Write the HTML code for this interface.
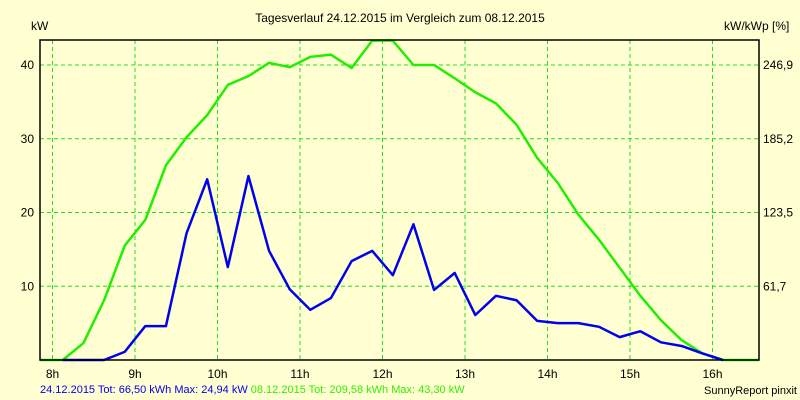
<!DOCTYPE html>
<html><head><meta charset="utf-8"><style>
body{margin:0;background:#ffffd2;}
svg{display:block;font-family:"Liberation Sans",sans-serif;}
</style></head><body>
<svg id="c" width="800" height="400" viewBox="0 0 800 400">
<rect width="800" height="400" fill="#ffffd2"/>
<text x="400" y="22" font-size="12" text-anchor="middle" fill="#000">Tagesverlauf 24.12.2015 im Vergleich zum 08.12.2015</text>
<text x="31" y="30" font-size="12" fill="#000">kW</text>
<text x="724" y="30" font-size="12" fill="#000">kW/kWp [%]</text>
<g id="grid"></g>
<g id="series"></g>
<rect x="40" y="40" width="719" height="320" fill="none" stroke="#000" stroke-width="1.5"/>
<g id="labels"></g>
<text x="40" y="393" font-size="11" fill="#0000ee">24.12.2015 Tot: 66,50 kWh Max: 24,94 kW <tspan fill="#33ee00">08.12.2015 Tot: 209,58 kWh Max: 43,30 kW</tspan></text>
<text x="797" y="394" font-size="11" text-anchor="end" fill="#000">SunnyReport pinxit</text>
</svg>
<script>
const hourTicks = ["8h","9h","10h","11h","12h","13h","14h","15h","16h"];
const leftTicks = [10,20,30,40];
const rightTickLabels = ["61,7","123,5","185,2","246,9"];
const green0812 = [0,2.3,8.1,15.5,19,26.4,30.2,33.2,37.3,38.5,40.3,39.7,41.1,41.4,39.6,43.3,43.3,40,40,38.2,36.3,34.8,31.9,27.4,24,19.7,16.3,12.5,8.7,5.4,2.7,0.9,0];
const blue2412 = [0,0,0,1.1,4.6,4.6,17.2,24.5,12.6,24.94,14.8,9.6,6.8,8.4,13.4,14.8,11.5,18.4,9.5,11.8,6.1,8.7,8.1,5.3,5,5,4.5,3.1,3.9,2.4,1.9,0.9,0];
const NS="http://www.w3.org/2000/svg";
const xHour = h => 52.5 + (h-8)*82.5;
const xIdx = i => xHour(8 + 0.125 + i*0.25);
const y = v => Math.max(40, 360 - v*7.375);
function mk(tag, attrs, parent){const e=document.createElementNS(NS,tag);for(const k in attrs)e.setAttribute(k,attrs[k]);parent.appendChild(e);return e;}
const grid=document.getElementById('grid'), ser=document.getElementById('series'), lab=document.getElementById('labels');
hourTicks.forEach((t,i)=>{
  const x=xHour(8+i);
  const l=mk('line',{x1:x,x2:x,y1:40,y2:360,stroke:'#22dd22','stroke-dasharray':'4,3','stroke-width':1},grid);
  
  
  const tx=mk('text',{x:x,y:378,'font-size':12,'text-anchor':'middle',fill:'#000'},lab);
  tx.textContent=t;
  
  
});
leftTicks.forEach((v,i)=>{
  const yy=y(v);
  const l=mk('line',{x1:40,x2:759,y1:yy,y2:yy,stroke:'#22dd22','stroke-dasharray':'4,3','stroke-width':1},grid);
  
  
  const t1=mk('text',{x:34,y:yy+4,'font-size':12,'text-anchor':'end',fill:'#000'},lab);
  t1.textContent=v;
  
  
  const t2=mk('text',{x:763,y:yy+4,'font-size':12,fill:'#000'},lab);
  t2.textContent=rightTickLabels[i];
  
  
});
function line(data,color,name,startX,endX){
  let pts=[];
  if(startX!==undefined) pts.push(startX+','+y(data[0]));
  data.forEach((v,i)=>pts.push(xIdx(i)+','+y(v)));
  if(endX!==undefined) pts.push(endX+','+y(data[data.length-1]));
  const p=mk('polyline',{points:pts.join(' '),fill:'none',stroke:color,'stroke-width':2.5,'stroke-linejoin':'round'},ser);
  
  
}
line(green0812,'#22ee00','series-08-12-2015',40,759);
line(blue2412,'#0000ee','series-24-12-2015');
</script>
</body></html>
